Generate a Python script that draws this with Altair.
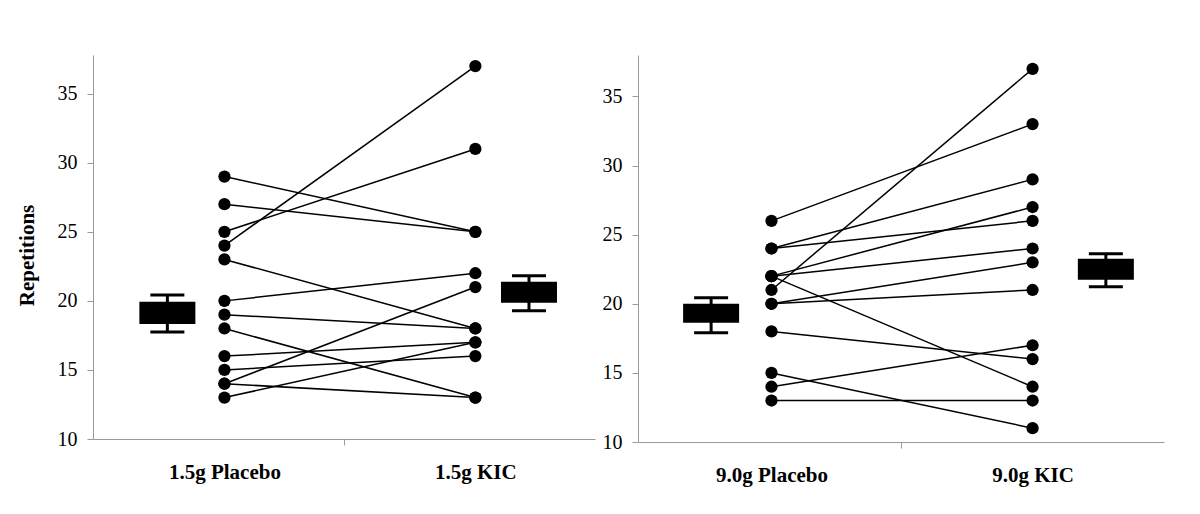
import altair as alt
import pandas as pd

# ---- data ----
left_labels = ["1.5g Placebo", "1.5g KIC"]
left_placebo = [29, 27, 25, 24, 23, 20, 19, 18, 16, 15, 14, 14, 13]
left_kic = [25, 25, 31, 37, 18, 22, 18, 13, 17, 16, 21, 13, 17]
# box glyphs: [whisker low, box low, box high, whisker high] for placebo, KIC
left_box_placebo = [17.75, 18.33, 19.93, 20.43]
left_box_kic = [19.28, 19.86, 21.38, 21.81]

right_labels = ["9.0g Placebo", "9.0g KIC"]
right_placebo = [26, 24, 24, 22, 22, 22, 21, 20, 20, 18, 15, 14, 13]
right_kic = [33, 29, 26, 27, 24, 14, 37, 23, 21, 16, 11, 17, 13]
right_box_placebo = [17.90, 18.62, 20.00, 20.43]
right_box_kic = [21.23, 21.74, 23.26, 23.62]

y_ticks = [10, 15, 20, 25, 30, 35]

# category positions along each panel's x axis (fraction of the axis)
left_dot_x = [0.257, 0.767]
left_box_x = [0.141, 0.876]
right_dot_x = [0.249, 0.755]
right_box_x = [0.132, 0.897]

FONT = "Liberation Serif"
AXIS_GREY = "#9a9a9a"


def panel(labels, placebo, kic, box_p, box_k, dot_x, box_x, ymax, width, height, show_title):
    rows = []
    for i, (a, b) in enumerate(zip(placebo, kic)):
        rows.append({"subject": i, "x": dot_x[0], "value": a})
        rows.append({"subject": i, "x": dot_x[1], "value": b})
    df = pd.DataFrame(rows)

    boxes = pd.DataFrame({
        "x": box_x,
        "lo": [box_p[0], box_k[0]],
        "q1": [box_p[1], box_k[1]],
        "q3": [box_p[2], box_k[2]],
        "hi": [box_p[3], box_k[3]],
    })

    xs = alt.Scale(domain=[0, 1], nice=False, zero=False)
    ys = alt.Scale(domain=[10, ymax], nice=False, zero=False)

    label_expr = (
        f"datum.value == 0.5 ? '' : (datum.value < 0.5 ? '{labels[0]}' : '{labels[1]}')"
    )
    xaxis = alt.Axis(
        values=[dot_x[0], 0.5, dot_x[1]],
        labelExpr=label_expr,
        title=None,
        grid=False,
        domainColor=AXIS_GREY,
        tickColor={"condition": {"test": "datum.value == 0.5", "value": AXIS_GREY},
                   "value": "transparent"},
        tickSize=6,
        labelPadding=16,
        labelFont=FONT,
        labelFontSize=21,
        labelFontWeight="bold",
        labelColor="black",
        labelFlush=False,
    )
    yaxis_kwargs = dict(
        values=y_ticks,
        grid=False,
        domainColor=AXIS_GREY,
        tickColor=AXIS_GREY,
        tickSize=6,
        labelPadding=10,
        labelFont=FONT,
        labelFontSize=20,
        labelColor="black",
    )
    if show_title:
        yaxis = alt.Axis(
            title="Repetitions",
            titleFont=FONT,
            titleFontSize=21,
            titleFontWeight="bold",
            titleColor="black",
            titlePadding=20,
            titleY=200,
            **yaxis_kwargs,
        )
    else:
        yaxis = alt.Axis(title=None, **yaxis_kwargs)

    X = alt.X("x:Q", scale=xs, axis=xaxis)

    lines = alt.Chart(df).mark_line(color="black", strokeWidth=1.5).encode(
        x=X,
        y=alt.Y("value:Q", scale=ys, axis=yaxis),
        detail="subject:N",
    )
    dots = alt.Chart(df).mark_circle(size=150, color="black", opacity=1).encode(
        x=alt.X("x:Q", scale=xs), y=alt.Y("value:Q", scale=ys)
    )
    bar = alt.Chart(boxes).mark_bar(size=56, color="black").encode(
        x=alt.X("x:Q", scale=xs), y=alt.Y("q1:Q", scale=ys), y2="q3:Q"
    )
    stem = alt.Chart(boxes).mark_rule(color="black", strokeWidth=3).encode(
        x=alt.X("x:Q", scale=xs), y=alt.Y("lo:Q", scale=ys), y2="hi:Q"
    )
    cap_lo = alt.Chart(boxes).mark_tick(
        orient="horizontal", size=34, thickness=3, color="black", opacity=1
    ).encode(x=alt.X("x:Q", scale=xs), y=alt.Y("lo:Q", scale=ys))
    cap_hi = alt.Chart(boxes).mark_tick(
        orient="horizontal", size=34, thickness=3, color="black", opacity=1
    ).encode(x=alt.X("x:Q", scale=xs), y=alt.Y("hi:Q", scale=ys))

    return alt.layer(lines, dots, stem, cap_lo, cap_hi, bar).properties(
        width=width, height=height
    )


left = panel(left_labels, left_placebo, left_kic, left_box_placebo, left_box_kic,
             left_dot_x, left_box_x, 37.8, 502, 384, True)
right = panel(right_labels, right_placebo, right_kic, right_box_placebo, right_box_kic,
              right_dot_x, right_box_x, 38.0, 526, 387, False)

chart = alt.hconcat(left, right, spacing=7).properties(
    padding={"left": 8, "top": 47, "right": 5, "bottom": 5},
    background="white",
).configure_view(stroke=None)

chart.save("out.html", embed_options={"renderer": "svg", "actions": False})
